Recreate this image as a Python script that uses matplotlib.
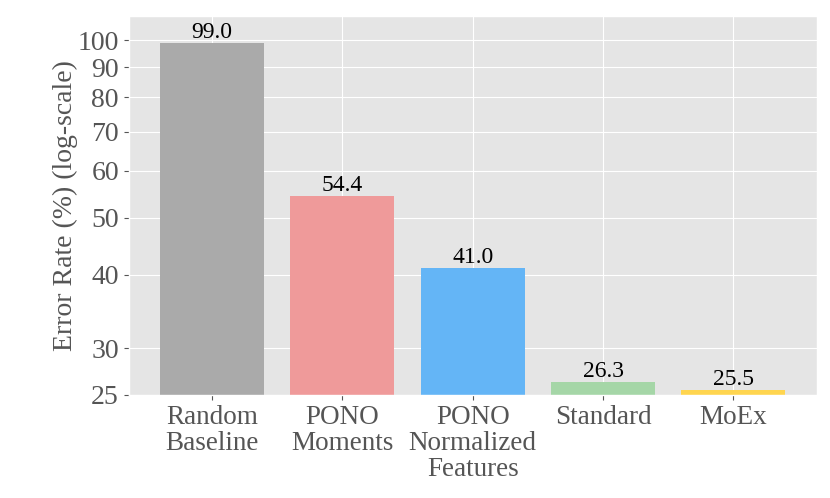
import matplotlib
matplotlib.use("Agg")
import matplotlib.pyplot as plt
from matplotlib.ticker import FixedLocator, NullLocator, FixedFormatter

plt.style.use("ggplot")
plt.rcParams["font.family"] = ["Liberation Serif", "DejaVu Serif"]

# ---------------------------------------------------------
# DATA
# ---------------------------------------------------------
methods = ["Random\nBaseline", "PONO\nMoments", "PONO\nNormalized\nFeatures",
           "Standard", "MoEx"]
error_rates = [99.0, 54.4, 41.0, 26.3, 25.5]
bar_colors = ["#aaaaaa", "#ef9a9a", "#64b5f6", "#a5d6a7", "#ffd54f"]
y_ticks = [25, 30, 40, 50, 60, 70, 80, 90, 100]

# ---------------------------------------------------------
# PLOT
# ---------------------------------------------------------
fig = plt.figure(figsize=(8.3, 4.98), dpi=100)
ax = fig.add_axes([0.155, 0.207, 0.829, 0.761])

x = range(len(methods))
bars = ax.bar(x, error_rates, width=0.8, color=bar_colors)

ax.set_yscale("log")
ax.set_ylim(25, 110)
ax.yaxis.set_major_locator(FixedLocator(y_ticks))
ax.yaxis.set_major_formatter(FixedFormatter([str(t) for t in y_ticks]))
ax.yaxis.set_minor_locator(NullLocator())

ax.set_xticks(list(x))
ax.set_xticklabels(methods, fontsize=19.5, color="#555555", linespacing=1.05)
ax.tick_params(axis="y", labelsize=20, colors="#555555")
ax.tick_params(axis="x", colors="#555555")
ax.set_ylabel("Error Rate (%) (log-scale)", fontsize=20, color="#555555",
              labelpad=0)

for b, v in zip(bars, error_rates):
    ax.annotate(f"{v:.1f}", (b.get_x() + b.get_width() / 2, v),
                xytext=(0, 0), textcoords="offset points",
                ha="center", va="bottom", fontsize=17, color="black")

fig.savefig("out.png", dpi=100)
